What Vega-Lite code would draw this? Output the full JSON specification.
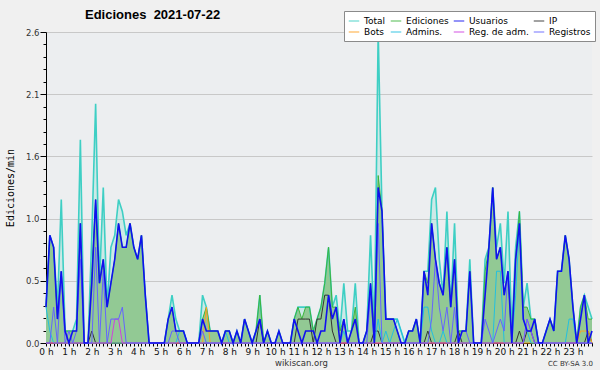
{
"$schema":"https://vega.github.io/schema/vega-lite/v6.json",
"width":546,"height":311,
"autosize":{"type":"none"},
"padding":{"left":46,"top":32,"right":8,"bottom":27},
"background":"#f0f0f0",
"config":{"view":{"fill":"#eceef0","stroke":null},"font":"DejaVu Sans"},
"title":{"text":"Ediciones\u00a0\u00a02021-07-22","anchor":"start","frame":"group","dx":39,"font":"Liberation Sans","fontSize":13,"fontWeight":"bold","color":"#000","offset":-11},
"data":{"values":[
{"t":0,"Total":0.3,"Ediciones":0.3,"Usuarios":0.3,"IP":0,"Bots":0,"Admins":0.3,"RegAdm":0,"Registros":0},
{"t":10,"Total":0.9,"Ediciones":0.9,"Usuarios":0.9,"IP":0,"Bots":0,"Admins":0.1,"RegAdm":0,"Registros":0},
{"t":20,"Total":0.8,"Ediciones":0.8,"Usuarios":0.8,"IP":0,"Bots":0,"Admins":0,"RegAdm":0,"Registros":0.3},
{"t":30,"Total":0.3,"Ediciones":0.2,"Usuarios":0.2,"IP":0,"Bots":0,"Admins":0,"RegAdm":0,"Registros":0},
{"t":40,"Total":1.2,"Ediciones":0.6,"Usuarios":0.6,"IP":0,"Bots":0,"Admins":0,"RegAdm":0,"Registros":0.6},
{"t":50,"Total":0.1,"Ediciones":0.1,"Usuarios":0.1,"IP":0,"Bots":0,"Admins":0,"RegAdm":0,"Registros":0},
{"t":60,"Total":0.1,"Ediciones":0.1,"Usuarios":0,"IP":0,"Bots":0,"Admins":0,"RegAdm":0,"Registros":0.1},
{"t":70,"Total":0.1,"Ediciones":0.1,"Usuarios":0.1,"IP":0,"Bots":0,"Admins":0,"RegAdm":0,"Registros":0},
{"t":80,"Total":0.2,"Ediciones":0.1,"Usuarios":0.1,"IP":0,"Bots":0,"Admins":0,"RegAdm":0,"Registros":0.1},
{"t":90,"Total":1.7,"Ediciones":1.0,"Usuarios":1.0,"IP":0,"Bots":0,"Admins":0,"RegAdm":0,"Registros":0.7},
{"t":100,"Total":0,"Ediciones":0,"Usuarios":0,"IP":0,"Bots":0,"Admins":0,"RegAdm":0,"Registros":0},
{"t":110,"Total":0,"Ediciones":0,"Usuarios":0,"IP":0,"Bots":0,"Admins":0,"RegAdm":0,"Registros":0},
{"t":120,"Total":0.9,"Ediciones":0.6,"Usuarios":0.5,"IP":0.1,"Bots":0,"Admins":0,"RegAdm":0,"Registros":0},
{"t":130,"Total":2.0,"Ediciones":1.2,"Usuarios":1.2,"IP":0,"Bots":0,"Admins":0,"RegAdm":0,"Registros":0.8},
{"t":140,"Total":0.5,"Ediciones":0.5,"Usuarios":0.5,"IP":0,"Bots":0,"Admins":0,"RegAdm":0,"Registros":0},
{"t":150,"Total":1.3,"Ediciones":0.7,"Usuarios":0.7,"IP":0,"Bots":0,"Admins":0,"RegAdm":0,"Registros":0.6},
{"t":160,"Total":0.3,"Ediciones":0.3,"Usuarios":0.3,"IP":0,"Bots":0,"Admins":0,"RegAdm":0,"Registros":0},
{"t":170,"Total":0.8,"Ediciones":0.5,"Usuarios":0.5,"IP":0,"Bots":0,"Admins":0,"RegAdm":0,"Registros":0.2},
{"t":180,"Total":0.9,"Ediciones":0.7,"Usuarios":0.7,"IP":0,"Bots":0,"Admins":0,"RegAdm":0.2,"Registros":0.2},
{"t":190,"Total":1.2,"Ediciones":1.0,"Usuarios":1.0,"IP":0,"Bots":0,"Admins":0,"RegAdm":0.2,"Registros":0.2},
{"t":200,"Total":1.1,"Ediciones":0.8,"Usuarios":0.8,"IP":0,"Bots":0,"Admins":0,"RegAdm":0,"Registros":0.3},
{"t":210,"Total":0.9,"Ediciones":0.8,"Usuarios":0.8,"IP":0,"Bots":0,"Admins":0,"RegAdm":0,"Registros":0},
{"t":220,"Total":1.0,"Ediciones":1.0,"Usuarios":1.0,"IP":0,"Bots":0,"Admins":0,"RegAdm":0,"Registros":0},
{"t":230,"Total":0.8,"Ediciones":0.8,"Usuarios":0.8,"IP":0,"Bots":0,"Admins":0,"RegAdm":0,"Registros":0},
{"t":240,"Total":0.7,"Ediciones":0.7,"Usuarios":0.7,"IP":0,"Bots":0,"Admins":0,"RegAdm":0,"Registros":0},
{"t":250,"Total":0.9,"Ediciones":0.9,"Usuarios":0.9,"IP":0,"Bots":0,"Admins":0,"RegAdm":0,"Registros":0},
{"t":260,"Total":0.4,"Ediciones":0.4,"Usuarios":0.4,"IP":0,"Bots":0,"Admins":0,"RegAdm":0,"Registros":0},
{"t":270,"Total":0,"Ediciones":0,"Usuarios":0,"IP":0,"Bots":0,"Admins":0,"RegAdm":0,"Registros":0},
{"t":280,"Total":0,"Ediciones":0,"Usuarios":0,"IP":0,"Bots":0,"Admins":0,"RegAdm":0,"Registros":0},
{"t":290,"Total":0,"Ediciones":0,"Usuarios":0,"IP":0,"Bots":0,"Admins":0,"RegAdm":0,"Registros":0},
{"t":300,"Total":0,"Ediciones":0,"Usuarios":0,"IP":0,"Bots":0,"Admins":0,"RegAdm":0,"Registros":0},
{"t":310,"Total":0,"Ediciones":0,"Usuarios":0,"IP":0,"Bots":0,"Admins":0,"RegAdm":0,"Registros":0},
{"t":320,"Total":0.2,"Ediciones":0.2,"Usuarios":0.2,"IP":0,"Bots":0,"Admins":0,"RegAdm":0,"Registros":0},
{"t":330,"Total":0.4,"Ediciones":0.3,"Usuarios":0.3,"IP":0,"Bots":0,"Admins":0,"RegAdm":0,"Registros":0.1},
{"t":340,"Total":0.2,"Ediciones":0.1,"Usuarios":0.1,"IP":0,"Bots":0,"Admins":0,"RegAdm":0,"Registros":0.1},
{"t":350,"Total":0.1,"Ediciones":0.1,"Usuarios":0.1,"IP":0,"Bots":0,"Admins":0.1,"RegAdm":0,"Registros":0},
{"t":360,"Total":0.1,"Ediciones":0.1,"Usuarios":0.1,"IP":0,"Bots":0,"Admins":0.1,"RegAdm":0,"Registros":0},
{"t":370,"Total":0,"Ediciones":0,"Usuarios":0,"IP":0,"Bots":0,"Admins":0,"RegAdm":0,"Registros":0},
{"t":380,"Total":0,"Ediciones":0,"Usuarios":0,"IP":0,"Bots":0,"Admins":0,"RegAdm":0,"Registros":0},
{"t":390,"Total":0,"Ediciones":0,"Usuarios":0,"IP":0,"Bots":0,"Admins":0,"RegAdm":0,"Registros":0},
{"t":400,"Total":0,"Ediciones":0,"Usuarios":0,"IP":0,"Bots":0,"Admins":0,"RegAdm":0,"Registros":0},
{"t":410,"Total":0.4,"Ediciones":0.2,"Usuarios":0.2,"IP":0,"Bots":0,"Admins":0,"RegAdm":0,"Registros":0.1},
{"t":420,"Total":0.3,"Ediciones":0.3,"Usuarios":0.1,"IP":0,"Bots":0.3,"Admins":0,"RegAdm":0,"Registros":0},
{"t":430,"Total":0.1,"Ediciones":0.1,"Usuarios":0.1,"IP":0,"Bots":0,"Admins":0,"RegAdm":0,"Registros":0},
{"t":440,"Total":0.1,"Ediciones":0.1,"Usuarios":0.1,"IP":0,"Bots":0,"Admins":0,"RegAdm":0,"Registros":0},
{"t":450,"Total":0.1,"Ediciones":0.1,"Usuarios":0.1,"IP":0,"Bots":0,"Admins":0,"RegAdm":0,"Registros":0},
{"t":460,"Total":0,"Ediciones":0,"Usuarios":0,"IP":0,"Bots":0,"Admins":0,"RegAdm":0,"Registros":0},
{"t":470,"Total":0.1,"Ediciones":0.1,"Usuarios":0.1,"IP":0,"Bots":0,"Admins":0.1,"RegAdm":0,"Registros":0},
{"t":480,"Total":0.1,"Ediciones":0.1,"Usuarios":0.1,"IP":0,"Bots":0,"Admins":0,"RegAdm":0,"Registros":0},
{"t":490,"Total":0,"Ediciones":0,"Usuarios":0,"IP":0,"Bots":0,"Admins":0,"RegAdm":0,"Registros":0},
{"t":500,"Total":0.1,"Ediciones":0.1,"Usuarios":0.1,"IP":0,"Bots":0,"Admins":0,"RegAdm":0,"Registros":0},
{"t":510,"Total":0,"Ediciones":0,"Usuarios":0,"IP":0,"Bots":0,"Admins":0,"RegAdm":0,"Registros":0},
{"t":520,"Total":0.2,"Ediciones":0.2,"Usuarios":0.2,"IP":0,"Bots":0,"Admins":0,"RegAdm":0,"Registros":0},
{"t":530,"Total":0.1,"Ediciones":0.1,"Usuarios":0.1,"IP":0,"Bots":0,"Admins":0,"RegAdm":0,"Registros":0},
{"t":540,"Total":0,"Ediciones":0,"Usuarios":0,"IP":0,"Bots":0,"Admins":0,"RegAdm":0,"Registros":0},
{"t":550,"Total":0.1,"Ediciones":0.1,"Usuarios":0.1,"IP":0,"Bots":0,"Admins":0,"RegAdm":0,"Registros":0},
{"t":560,"Total":0.4,"Ediciones":0.4,"Usuarios":0.2,"IP":0.2,"Bots":0,"Admins":0,"RegAdm":0,"Registros":0},
{"t":570,"Total":0,"Ediciones":0,"Usuarios":0,"IP":0,"Bots":0,"Admins":0,"RegAdm":0,"Registros":0},
{"t":580,"Total":0.1,"Ediciones":0.1,"Usuarios":0.1,"IP":0,"Bots":0,"Admins":0,"RegAdm":0,"Registros":0},
{"t":590,"Total":0,"Ediciones":0,"Usuarios":0,"IP":0,"Bots":0,"Admins":0,"RegAdm":0,"Registros":0},
{"t":600,"Total":0,"Ediciones":0,"Usuarios":0,"IP":0,"Bots":0,"Admins":0,"RegAdm":0,"Registros":0},
{"t":610,"Total":0.1,"Ediciones":0.1,"Usuarios":0.1,"IP":0,"Bots":0,"Admins":0,"RegAdm":0,"Registros":0},
{"t":620,"Total":0,"Ediciones":0,"Usuarios":0,"IP":0,"Bots":0,"Admins":0,"RegAdm":0,"Registros":0},
{"t":630,"Total":0,"Ediciones":0,"Usuarios":0,"IP":0,"Bots":0,"Admins":0,"RegAdm":0,"Registros":0},
{"t":640,"Total":0,"Ediciones":0,"Usuarios":0,"IP":0,"Bots":0,"Admins":0,"RegAdm":0,"Registros":0},
{"t":650,"Total":0.2,"Ediciones":0.2,"Usuarios":0.2,"IP":0,"Bots":0,"Admins":0,"RegAdm":0,"Registros":0},
{"t":660,"Total":0.3,"Ediciones":0.3,"Usuarios":0.1,"IP":0.2,"Bots":0,"Admins":0,"RegAdm":0,"Registros":0},
{"t":670,"Total":0.3,"Ediciones":0.2,"Usuarios":0,"IP":0.2,"Bots":0,"Admins":0,"RegAdm":0,"Registros":0},
{"t":680,"Total":0.3,"Ediciones":0.3,"Usuarios":0.1,"IP":0.2,"Bots":0,"Admins":0,"RegAdm":0,"Registros":0},
{"t":690,"Total":0.3,"Ediciones":0.3,"Usuarios":0.1,"IP":0.2,"Bots":0,"Admins":0,"RegAdm":0,"Registros":0},
{"t":700,"Total":0.1,"Ediciones":0.1,"Usuarios":0.1,"IP":0,"Bots":0,"Admins":0,"RegAdm":0,"Registros":0},
{"t":710,"Total":0.2,"Ediciones":0.2,"Usuarios":0,"IP":0.2,"Bots":0,"Admins":0,"RegAdm":0,"Registros":0},
{"t":720,"Total":0.3,"Ediciones":0.3,"Usuarios":0.1,"IP":0.2,"Bots":0,"Admins":0,"RegAdm":0,"Registros":0},
{"t":730,"Total":0.5,"Ediciones":0.5,"Usuarios":0.1,"IP":0.4,"Bots":0,"Admins":0,"RegAdm":0,"Registros":0},
{"t":740,"Total":0.8,"Ediciones":0.8,"Usuarios":0.4,"IP":0.4,"Bots":0,"Admins":0,"RegAdm":0,"Registros":0},
{"t":750,"Total":0.3,"Ediciones":0.3,"Usuarios":0.2,"IP":0.1,"Bots":0,"Admins":0,"RegAdm":0,"Registros":0},
{"t":760,"Total":0.4,"Ediciones":0.3,"Usuarios":0.3,"IP":0,"Bots":0,"Admins":0,"RegAdm":0,"Registros":0},
{"t":770,"Total":0.1,"Ediciones":0.1,"Usuarios":0,"IP":0,"Bots":0,"Admins":0,"RegAdm":0,"Registros":0},
{"t":780,"Total":0.5,"Ediciones":0.2,"Usuarios":0.2,"IP":0,"Bots":0,"Admins":0.1,"RegAdm":0,"Registros":0.2},
{"t":790,"Total":0.1,"Ediciones":0,"Usuarios":0,"IP":0,"Bots":0,"Admins":0,"RegAdm":0,"Registros":0},
{"t":800,"Total":0.1,"Ediciones":0.1,"Usuarios":0.1,"IP":0,"Bots":0,"Admins":0,"RegAdm":0,"Registros":0},
{"t":810,"Total":0.5,"Ediciones":0.3,"Usuarios":0.2,"IP":0,"Bots":0,"Admins":0,"RegAdm":0,"Registros":0},
{"t":820,"Total":0,"Ediciones":0,"Usuarios":0,"IP":0,"Bots":0,"Admins":0,"RegAdm":0,"Registros":0},
{"t":830,"Total":0,"Ediciones":0,"Usuarios":0,"IP":0,"Bots":0,"Admins":0,"RegAdm":0,"Registros":0},
{"t":840,"Total":0.1,"Ediciones":0.1,"Usuarios":0.1,"IP":0,"Bots":0,"Admins":0,"RegAdm":0,"Registros":0},
{"t":850,"Total":0.9,"Ediciones":0.5,"Usuarios":0.5,"IP":0,"Bots":0,"Admins":0,"RegAdm":0,"Registros":0.4},
{"t":860,"Total":0.1,"Ediciones":0.1,"Usuarios":0,"IP":0.1,"Bots":0,"Admins":0,"RegAdm":0,"Registros":0},
{"t":870,"Total":2.6,"Ediciones":1.4,"Usuarios":1.3,"IP":0.1,"Bots":0,"Admins":0.2,"RegAdm":0,"Registros":1.0},
{"t":880,"Total":1.1,"Ediciones":1.1,"Usuarios":1.1,"IP":0,"Bots":0,"Admins":0,"RegAdm":0,"Registros":0},
{"t":890,"Total":0.2,"Ediciones":0.2,"Usuarios":0.2,"IP":0,"Bots":0,"Admins":0.1,"RegAdm":0,"Registros":0},
{"t":900,"Total":0.2,"Ediciones":0.2,"Usuarios":0.2,"IP":0,"Bots":0,"Admins":0,"RegAdm":0,"Registros":0},
{"t":910,"Total":0.2,"Ediciones":0.2,"Usuarios":0.2,"IP":0,"Bots":0,"Admins":0.1,"RegAdm":0,"Registros":0},
{"t":920,"Total":0.2,"Ediciones":0.1,"Usuarios":0.1,"IP":0,"Bots":0,"Admins":0.2,"RegAdm":0,"Registros":0},
{"t":930,"Total":0.1,"Ediciones":0,"Usuarios":0,"IP":0,"Bots":0,"Admins":0.1,"RegAdm":0,"Registros":0},
{"t":940,"Total":0,"Ediciones":0,"Usuarios":0,"IP":0,"Bots":0,"Admins":0,"RegAdm":0,"Registros":0},
{"t":950,"Total":0.1,"Ediciones":0.1,"Usuarios":0.1,"IP":0,"Bots":0,"Admins":0,"RegAdm":0,"Registros":0},
{"t":960,"Total":0.1,"Ediciones":0.1,"Usuarios":0.1,"IP":0,"Bots":0,"Admins":0,"RegAdm":0,"Registros":0},
{"t":970,"Total":0.2,"Ediciones":0.2,"Usuarios":0.2,"IP":0,"Bots":0,"Admins":0,"RegAdm":0,"Registros":0},
{"t":980,"Total":0,"Ediciones":0,"Usuarios":0,"IP":0,"Bots":0,"Admins":0,"RegAdm":0,"Registros":0},
{"t":990,"Total":0.6,"Ediciones":0.6,"Usuarios":0.6,"IP":0,"Bots":0,"Admins":0.3,"RegAdm":0,"Registros":0},
{"t":1000,"Total":0.6,"Ediciones":0.5,"Usuarios":0.4,"IP":0.1,"Bots":0,"Admins":0.3,"RegAdm":0,"Registros":0},
{"t":1010,"Total":1.2,"Ediciones":1.0,"Usuarios":1.0,"IP":0,"Bots":0,"Admins":0.1,"RegAdm":0,"Registros":0.2},
{"t":1020,"Total":1.3,"Ediciones":0.7,"Usuarios":0.7,"IP":0,"Bots":0,"Admins":0,"RegAdm":0,"Registros":0.7},
{"t":1030,"Total":0.7,"Ediciones":0.5,"Usuarios":0.5,"IP":0,"Bots":0,"Admins":0,"RegAdm":0,"Registros":0.3},
{"t":1040,"Total":0.4,"Ediciones":0.4,"Usuarios":0.4,"IP":0,"Bots":0,"Admins":0.1,"RegAdm":0,"Registros":0.1},
{"t":1050,"Total":1.1,"Ediciones":0.8,"Usuarios":0.8,"IP":0,"Bots":0,"Admins":0,"RegAdm":0,"Registros":0.3},
{"t":1060,"Total":0.3,"Ediciones":0.3,"Usuarios":0.3,"IP":0,"Bots":0,"Admins":0,"RegAdm":0,"Registros":0},
{"t":1070,"Total":1.0,"Ediciones":0.7,"Usuarios":0.7,"IP":0,"Bots":0,"Admins":0,"RegAdm":0,"Registros":0.3},
{"t":1080,"Total":0.1,"Ediciones":0.1,"Usuarios":0,"IP":0.1,"Bots":0,"Admins":0,"RegAdm":0,"Registros":0},
{"t":1090,"Total":0.1,"Ediciones":0.1,"Usuarios":0.1,"IP":0,"Bots":0,"Admins":0,"RegAdm":0,"Registros":0.1},
{"t":1100,"Total":0.1,"Ediciones":0.1,"Usuarios":0.1,"IP":0,"Bots":0,"Admins":0,"RegAdm":0,"Registros":0.1},
{"t":1110,"Total":0.7,"Ediciones":0.6,"Usuarios":0.6,"IP":0,"Bots":0,"Admins":0,"RegAdm":0,"Registros":0},
{"t":1120,"Total":0,"Ediciones":0,"Usuarios":0,"IP":0,"Bots":0,"Admins":0,"RegAdm":0,"Registros":0},
{"t":1130,"Total":0,"Ediciones":0,"Usuarios":0,"IP":0,"Bots":0,"Admins":0,"RegAdm":0,"Registros":0},
{"t":1140,"Total":0,"Ediciones":0,"Usuarios":0,"IP":0,"Bots":0,"Admins":0,"RegAdm":0,"Registros":0},
{"t":1150,"Total":0.7,"Ediciones":0.6,"Usuarios":0.4,"IP":0,"Bots":0,"Admins":0,"RegAdm":0,"Registros":0.2},
{"t":1160,"Total":0.8,"Ediciones":0.8,"Usuarios":0.8,"IP":0,"Bots":0,"Admins":0,"RegAdm":0,"Registros":0.1},
{"t":1170,"Total":1.3,"Ediciones":1.3,"Usuarios":1.3,"IP":0,"Bots":0,"Admins":0,"RegAdm":0,"Registros":0},
{"t":1180,"Total":0.8,"Ediciones":0.7,"Usuarios":0.7,"IP":0,"Bots":0,"Admins":0.6,"RegAdm":0,"Registros":0.1},
{"t":1190,"Total":1.0,"Ediciones":0.8,"Usuarios":0.8,"IP":0,"Bots":0,"Admins":0.6,"RegAdm":0,"Registros":0.2},
{"t":1200,"Total":0.5,"Ediciones":0.4,"Usuarios":0.4,"IP":0,"Bots":0,"Admins":0,"RegAdm":0,"Registros":0.1},
{"t":1210,"Total":1.1,"Ediciones":0.6,"Usuarios":0.6,"IP":0,"Bots":0,"Admins":0,"RegAdm":0,"Registros":0.6},
{"t":1220,"Total":0.1,"Ediciones":0,"Usuarios":0,"IP":0,"Bots":0,"Admins":0,"RegAdm":0,"Registros":0},
{"t":1230,"Total":0.8,"Ediciones":0.7,"Usuarios":0.7,"IP":0,"Bots":0,"Admins":0.4,"RegAdm":0,"Registros":0},
{"t":1240,"Total":1.1,"Ediciones":1.1,"Usuarios":1.0,"IP":0.1,"Bots":0,"Admins":1.0,"RegAdm":0,"Registros":0},
{"t":1250,"Total":0.3,"Ediciones":0.3,"Usuarios":0.2,"IP":0,"Bots":0,"Admins":0.2,"RegAdm":0,"Registros":0},
{"t":1260,"Total":0.5,"Ediciones":0.3,"Usuarios":0.1,"IP":0.1,"Bots":0,"Admins":0.1,"RegAdm":0.2,"Registros":0.2},
{"t":1270,"Total":0.2,"Ediciones":0.2,"Usuarios":0.1,"IP":0.1,"Bots":0,"Admins":0,"RegAdm":0.1,"Registros":0.1},
{"t":1280,"Total":0.2,"Ediciones":0.2,"Usuarios":0.2,"IP":0,"Bots":0,"Admins":0,"RegAdm":0,"Registros":0},
{"t":1290,"Total":0,"Ediciones":0,"Usuarios":0,"IP":0,"Bots":0,"Admins":0,"RegAdm":0,"Registros":0},
{"t":1300,"Total":0,"Ediciones":0,"Usuarios":0,"IP":0,"Bots":0,"Admins":0,"RegAdm":0,"Registros":0},
{"t":1310,"Total":0.1,"Ediciones":0.1,"Usuarios":0.1,"IP":0,"Bots":0,"Admins":0,"RegAdm":0,"Registros":0},
{"t":1320,"Total":0.2,"Ediciones":0.2,"Usuarios":0.2,"IP":0,"Bots":0,"Admins":0,"RegAdm":0,"Registros":0},
{"t":1330,"Total":0.1,"Ediciones":0.1,"Usuarios":0.1,"IP":0,"Bots":0,"Admins":0,"RegAdm":0,"Registros":0},
{"t":1340,"Total":0.6,"Ediciones":0.6,"Usuarios":0.6,"IP":0,"Bots":0,"Admins":0,"RegAdm":0,"Registros":0},
{"t":1350,"Total":0.6,"Ediciones":0.6,"Usuarios":0.6,"IP":0,"Bots":0,"Admins":0,"RegAdm":0,"Registros":0},
{"t":1360,"Total":0.9,"Ediciones":0.9,"Usuarios":0.9,"IP":0,"Bots":0,"Admins":0,"RegAdm":0,"Registros":0},
{"t":1370,"Total":0.7,"Ediciones":0.7,"Usuarios":0.7,"IP":0,"Bots":0,"Admins":0.2,"RegAdm":0,"Registros":0},
{"t":1380,"Total":0.3,"Ediciones":0.3,"Usuarios":0.3,"IP":0,"Bots":0,"Admins":0.2,"RegAdm":0,"Registros":0},
{"t":1390,"Total":0,"Ediciones":0,"Usuarios":0,"IP":0,"Bots":0,"Admins":0,"RegAdm":0,"Registros":0},
{"t":1400,"Total":0.3,"Ediciones":0.3,"Usuarios":0.2,"IP":0,"Bots":0.1,"Admins":0,"RegAdm":0,"Registros":0},
{"t":1410,"Total":0.4,"Ediciones":0.4,"Usuarios":0.4,"IP":0,"Bots":0.1,"Admins":0,"RegAdm":0,"Registros":0},
{"t":1420,"Total":0.3,"Ediciones":0.2,"Usuarios":0,"IP":0.1,"Bots":0.1,"Admins":0,"RegAdm":0,"Registros":0},
{"t":1430,"Total":0.2,"Ediciones":0.2,"Usuarios":0.1,"IP":0,"Bots":0,"Admins":0,"RegAdm":0,"Registros":0}
]},
"transform":[{"fold":["Total","Ediciones","IP","Bots","Admins","RegAdm","Registros","Usuarios"],"as":["serie","v"]}],
"encoding":{
"x":{"field":"t","type":"quantitative","scale":{"domain":[0,1430],"nice":false,"zero":false},
"axis":{"values":[0,10,20,30,40,50,60,70,80,90,100,110,120,130,140,150,160,170,180,190,200,210,220,230,240,250,260,270,280,290,300,310,320,330,340,350,360,370,380,390,400,410,420,430,440,450,460,470,480,490,500,510,520,530,540,550,560,570,580,590,600,610,620,630,640,650,660,670,680,690,700,710,720,730,740,750,760,770,780,790,800,810,820,830,840,850,860,870,880,890,900,910,920,930,940,950,960,970,980,990,1000,1010,1020,1030,1040,1050,1060,1070,1080,1090,1100,1110,1120,1130,1140,1150,1160,1170,1180,1190,1200,1210,1220,1230,1240,1250,1260,1270,1280,1290,1300,1310,1320,1330,1340,1350,1360,1370,1380,1390,1400,1410,1420,1430],
"labelExpr":"datum.value % 60 == 0 ? (datum.value/60) + ' h' : ''",
"labelOverlap":false,"labelFlush":false,"labelFont":"DejaVu Sans","labelFontSize":9,"labelColor":"#111","labelPadding":1,
"tickSize":3,"tickColor":"#000","domainColor":"#000","grid":false,
"title":"wikiscan.org","titleFont":"DejaVu Sans","titleFontSize":8.5,"titleFontWeight":"normal","titleColor":"#333","titlePadding":2,"titleX":255}},
"y":{"field":"v","type":"quantitative","scale":{"domain":[0,2.6],"nice":false},
 "axis":{"values":[0,0.104,0.208,0.312,0.416,0.52,0.624,0.728,0.832,0.936,1.04,1.144,1.248,1.352,1.456,1.56,1.664,1.768,1.872,1.976,2.08,2.184,2.288,2.392,2.496,2.6],
 "labelExpr":"round(datum.value*1000) % 520 == 0 ? format(datum.value,'.1f') : ''",
 "tickSize":{"condition":{"test":"round(datum.value*1000) % 520 == 0","value":6},"value":3},
 "grid":true,"gridColor":"#c8c8c8","gridOpacity":{"condition":{"test":"round(datum.value*1000) % 520 == 0","value":1},"value":0},
 "labelOverlap":false,"labelFlush":false,"labelFont":"DejaVu Sans","labelFontSize":8.5,"labelColor":"#333","labelPadding":1,
 "tickColor":"#000","domainColor":"#000",
 "title":"Ediciones/min","titleFont":"DejaVu Sans Mono","titleFontSize":10,"titleFontWeight":"normal","titleColor":"#000","titlePadding":10}}
},
"layer":[
{"transform":[{"filter":"datum.serie == 'Total'"}],
 "mark":{"type":"area","color":"#40d0c0","fillOpacity":0.18}},
{"transform":[{"filter":"datum.serie == 'Ediciones'"}],
 "mark":{"type":"area","color":"#92c994","opacity":1}},
{"mark":{"type":"line","strokeJoin":"miter"},
 "encoding":{
 "color":{"field":"serie","type":"nominal","sort":null,
  "scale":{"domain":["Total","Ediciones","Usuarios","IP","Bots","Admins","RegAdm","Registros"],"range":["#3ecfc4","#3cb43c","#1010f0","#333333","#ffa020","#22c0e0","#d040e0","#6464ff"]},
  "legend":{"orient":"none","legendX":298,"legendY":-21,"direction":"horizontal","columns":4,"gridAlign":"each","title":null,"symbolType":"stroke","symbolSize":110,"symbolStrokeWidth":1.5,"symbolOpacity":0.6,
   "labelFont":"DejaVu Sans","labelFontSize":9,"labelColor":"#000","labelOffset":4,"fillColor":"#ffffff","strokeColor":"#8a8a8a","padding":4,"rowPadding":0,"columnPadding":1,
   "labelExpr":"datum.label == 'Admins' ? 'Admins.' : datum.label == 'RegAdm' ? 'Reg. de adm.' : datum.label"}},
 "strokeWidth":{"condition":{"test":"datum.serie == 'Usuarios' || datum.serie == 'Total'","value":1.6},"value":1}}},
{"transform":[{"aggregate":[{"op":"max","field":"t","as":"t"},{"op":"min","field":"v","as":"v"}]}],
 "mark":{"type":"text","align":"right","baseline":"middle","dy":21,"dx":1,"fontSize":7,"font":"DejaVu Sans","color":"#333","clip":false},
 "encoding":{"text":{"value":"CC BY-SA 3.0"}}}
]
}
